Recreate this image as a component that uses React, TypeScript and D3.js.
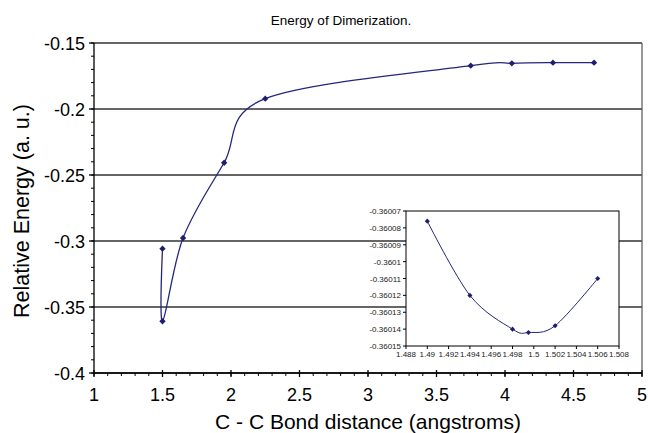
import React from "react";
import * as d3 from "d3";

const mainX = [1.5, 1.5, 1.65, 1.95, 2.25, 3.75, 4.05, 4.35, 4.65];
const mainY = [-0.3058, -0.3608, -0.2977, -0.2407, -0.1922, -0.1672, -0.1654, -0.1649, -0.1649];
const mainXTicks = [1, 1.5, 2, 2.5, 3, 3.5, 4, 4.5, 5];
const mainYTicks = [-0.15, -0.2, -0.25, -0.3, -0.35, -0.4];

const insetX = [1.49, 1.494, 1.498, 1.4995, 1.502, 1.506];
const insetY = [-0.360076, -0.36012, -0.36014, -0.360142, -0.360138, -0.36011];
const insetXTicks = [1.488, 1.49, 1.492, 1.494, 1.496, 1.498, 1.5, 1.502, 1.504, 1.506, 1.508];
const insetYTicks = [-0.36007, -0.36008, -0.36009, -0.3601, -0.36011, -0.36012, -0.36013, -0.36014, -0.36015];

const W = 648;
const H = 433;
const FONT = "'Liberation Sans', Arial, sans-serif";
const LINE = "#24277c";
const MARK = "#1d1f6e";

export default function App() {
  const x = d3.scaleLinear().domain([1, 5]).range([94, 642]);
  const y = d3.scaleLinear().domain([-0.4, -0.15]).range([373, 43]);
  const ix = d3.scaleLinear().domain([1.488, 1.508]).range([406, 619]);
  const iy = d3.scaleLinear().domain([-0.36015, -0.36007]).range([346, 211]);

  const mainPts: [number, number][] = mainX.map((v, i) => [x(v), y(mainY[i])]);
  const insetPts: [number, number][] = insetX.map((v, i) => [ix(v), iy(insetY[i])]);
  const line = d3.line().curve(d3.curveCardinal.tension(0));
  const bigMark = d3.symbol().type(d3.symbolSquare).size(20)() as string;
  const smallMark = d3.symbol().type(d3.symbolSquare).size(13)() as string;

  const xMinor = d3.range(1, 5.0001, 0.1);
  const yMinor = d3.range(-0.4, -0.1499, 0.01);

  return (
    <svg width={W} height={H} style={{ position: "absolute", left: 0, top: 0, background: "#fff" }} fontFamily={FONT}>
      <rect x={0} y={0} width={W} height={H} fill="#fff" />
      {/* title */}
      <text x={341} y={25} fontSize={13.5} textAnchor="middle" fill="#000">Energy of Dimerization.</text>

      {/* gridlines */}
      {mainYTicks.map((t) => (
        <line key={"g" + t} x1={94} x2={642} y1={y(t)} y2={y(t)} stroke="#333" strokeWidth={1.4} />
      ))}
      {/* plot border right */}
      <line x1={642} x2={642} y1={43} y2={373} stroke="#555" strokeWidth={1.2} />

      {/* main axes */}
      <line x1={94} x2={94} y1={43} y2={373} stroke="#000" strokeWidth={1.3} />
      <line x1={94} x2={642} y1={373} y2={373} stroke="#000" strokeWidth={1.3} />
      {xMinor.map((t, i) => (
        <line key={"xm" + i} x1={x(t)} x2={x(t)} y1={373} y2={376} stroke="#000" strokeWidth={1} />
      ))}
      {mainXTicks.map((t) => (
        <line key={"xM" + t} x1={x(t)} x2={x(t)} y1={370} y2={377} stroke="#000" strokeWidth={1.3} />
      ))}
      {yMinor.map((t, i) => (
        <line key={"ym" + i} x1={91} x2={94} y1={y(t)} y2={y(t)} stroke="#000" strokeWidth={1} />
      ))}
      {mainYTicks.map((t) => (
        <line key={"yM" + t} x1={89} x2={94} y1={y(t)} y2={y(t)} stroke="#000" strokeWidth={1.3} />
      ))}
      {mainXTicks.map((t) => (
        <text key={"xl" + t} x={x(t)} y={401} fontSize={18} textAnchor="middle" fill="#000">{String(t)}</text>
      ))}
      {mainYTicks.map((t) => (
        <text key={"yl" + t} x={85} y={y(t) + 6.5} fontSize={18} textAnchor="end" fill="#000">{String(t)}</text>
      ))}
      <text x={368} y={429} fontSize={21} textAnchor="middle" fill="#000">C - C Bond distance (angstroms)</text>
      <text transform={`translate(29,211) rotate(-90)`} fontSize={21.5} textAnchor="middle" fill="#000">Relative Energy (a. u.)</text>

      {/* main series */}
      <path d={line(mainPts) as string} fill="none" stroke={LINE} strokeWidth={1.3} />
      {mainPts.map((p, i) => (
        <path key={"mp" + i} d={bigMark} transform={`translate(${p[0]},${p[1]}) rotate(45)`} fill={MARK} />
      ))}

      {/* inset */}
      <rect x={406} y={211} width={213} height={135} fill="#fff" stroke="#000" strokeWidth={1} />
      {insetXTicks.map((t) => (
        <line key={"ixt" + t} x1={ix(t)} x2={ix(t)} y1={346} y2={349} stroke="#000" strokeWidth={1} />
      ))}
      {insetYTicks.map((t) => (
        <line key={"iyt" + t} x1={403} x2={406} y1={iy(t)} y2={iy(t)} stroke="#000" strokeWidth={1} />
      ))}
      {insetXTicks.map((t) => (
        <text key={"ixl" + t} x={ix(t)} y={357} fontSize={8} textAnchor="middle" fill="#222">{String(t)}</text>
      ))}
      {insetYTicks.map((t) => (
        <text key={"iyl" + t} x={401} y={iy(t) + 3} fontSize={8} textAnchor="end" fill="#222">{String(t)}</text>
      ))}
      <path d={line(insetPts) as string} fill="none" stroke={LINE} strokeWidth={1} />
      {insetPts.map((p, i) => (
        <path key={"ip" + i} d={smallMark} transform={`translate(${p[0]},${p[1]}) rotate(45)`} fill={MARK} />
      ))}
    </svg>
  );
}
